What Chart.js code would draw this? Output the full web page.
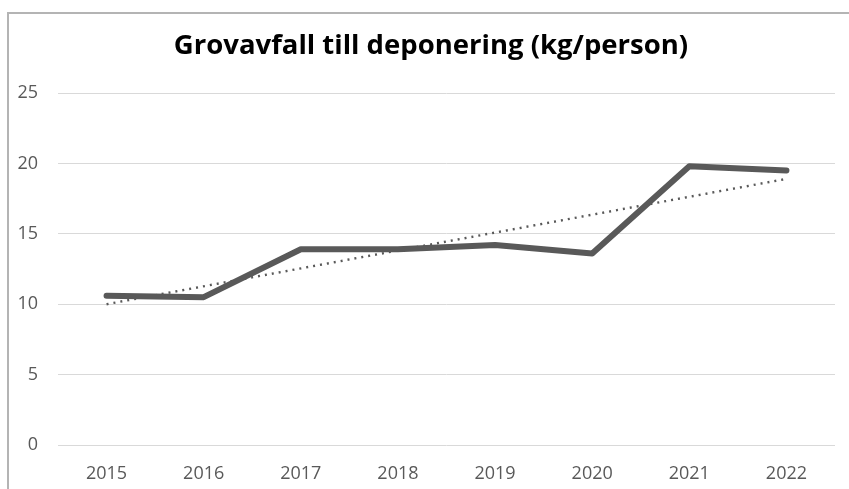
<!DOCTYPE html>
<html>
<head>
<meta charset="utf-8">
<script src="https://cdn.jsdelivr.net/npm/chart.js@4"></script>
<style>
  html, body { margin: 0; padding: 0; background: #fff; overflow: hidden; }
  #frame {
    position: absolute; left: 7px; top: 12px; width: 900px; height: 520px;
    border-left: 2px solid #b4b4b4; border-top: 2px solid #b4b4b4;
  }
  #chartBox { position: absolute; left: 9px; top: 14px; width: 840px; height: 475px; }
</style>
</head>
<body>
<div id="frame"></div>
<div id="chartBox"><canvas id="deponiChart"></canvas></div>
<script>
// data
var years = ['2015', '2016', '2017', '2018', '2019', '2020', '2021', '2022'];
var kgPerPerson = [10.6, 10.5, 13.9, 13.9, 14.2, 13.6, 19.8, 19.5];
var trendValues = [10.0, null, null, null, null, null, null, 18.9];
var yTicks = [0, 5, 10, 15, 20, 25];

document.addEventListener('DOMContentLoaded', function () {
    var ctx = document.getElementById('deponiChart').getContext('2d');
    var grey = '#595959';
    var fontName = '"Open Sans", "Noto Sans", sans-serif';

    // the original title sits a bit right of the canvas centre
    var titleShift = {
        id: 'titleShift',
        afterLayout: function (chart) {
            if (chart.titleBlock) {
                chart.titleBlock.left += 18;
            }
        }
    };

    new Chart(ctx, {
        type: 'line',
        data: {
            labels: years,
            datasets: [{
                label: 'Grovavfall',
                data: kgPerPerson,
                borderColor: grey,
                borderWidth: 6,
                borderCapStyle: 'round',
                borderJoinStyle: 'round',
                pointRadius: 0,
                tension: 0,
                order: 0
            }, {
                label: 'Linjär trend',
                data: trendValues,
                spanGaps: true,
                borderColor: grey,
                borderWidth: 2.4,
                borderDash: [2, 5],
                pointRadius: 0,
                order: 1
            }]
        },
        options: {
            responsive: true,
            maintainAspectRatio: false,
            animation: false,
            layout: { padding: { left: 0, right: 14, top: 0, bottom: 0 } },
            plugins: {
                legend: { display: false },
                tooltip: { enabled: false },
                title: {
                    display: true,
                    text: 'Grovavfall till deponering (kg/person)',
                    color: '#000',
                    font: { family: fontName, size: 27.5, weight: 'bold' },
                    padding: { top: 16, bottom: 30 }
                }
            },
            scales: {
                x: {
                    offset: true,
                    grid: { display: false, drawTicks: false },
                    border: { display: false },
                    ticks: { color: grey, font: { family: fontName, size: 18 }, padding: 18, maxRotation: 0 },
                    afterFit: function (s) { s.height = 44; }
                },
                y: {
                    min: 0,
                    max: 25,
                    afterBuildTicks: function (s) {
                        s.ticks = yTicks.map(function (v) { return { value: v }; });
                    },
                    grid: { color: '#d9d9d9', lineWidth: 1, drawTicks: false },
                    border: { display: false },
                    ticks: { color: grey, font: { family: fontName, size: 18 }, padding: 20 },
                    afterFit: function (s) { s.width = 49; }
                }
            }
        },
        plugins: [titleShift]
    });
});
</script>
</body>
</html>
